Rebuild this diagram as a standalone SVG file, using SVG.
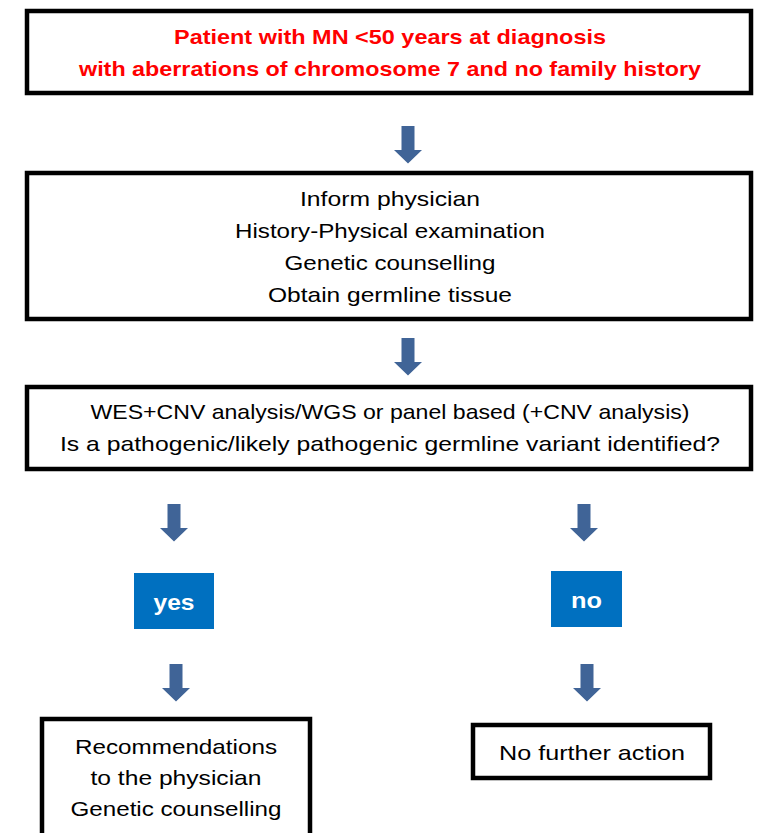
<svg xmlns="http://www.w3.org/2000/svg" width="760" height="833" viewBox="0 0 760 833">
<defs>
<style>
.box{fill:#fff;stroke:#000;stroke-width:4.5}
.t{font-family:"Liberation Sans",Arial,sans-serif;font-size:21px;fill:#000;text-anchor:middle}
.red{fill:#ff0000;font-weight:bold}
.lab{fill:#fff;font-weight:bold;font-size:22px}
.dec{fill:#0070c0}
.arr{fill:#406497}
</style>
<path id="ar" d="M-6.5,0 H6.5 V24 H14 L0,37.5 L-14,24 H-6.5 Z"/>
</defs>
<rect width="760" height="833" fill="#fff"/>
<g id="connectors">
<use href="#ar" class="arr" x="408" y="126"/>
<use href="#ar" class="arr" x="408" y="338"/>
<use href="#ar" class="arr" x="174" y="504"/>
<use href="#ar" class="arr" x="584" y="504"/>
<use href="#ar" class="arr" x="176" y="664"/>
<use href="#ar" class="arr" x="587" y="664"/>
</g>
<g id="n1">
<rect class="box" x="27" y="11" width="724" height="82"/>
<text class="t red" x="390" y="44" textLength="432" lengthAdjust="spacingAndGlyphs">Patient with MN &lt;50 years at diagnosis</text>
<text class="t red" x="390" y="76" textLength="622" lengthAdjust="spacingAndGlyphs">with aberrations of chromosome 7 and no family history</text>
</g>
<g id="n2">
<rect class="box" x="27" y="173" width="724" height="146"/>
<text class="t" x="390" y="206" textLength="180" lengthAdjust="spacingAndGlyphs">Inform physician</text>
<text class="t" x="390" y="238" textLength="310" lengthAdjust="spacingAndGlyphs">History-Physical examination</text>
<text class="t" x="390" y="270" textLength="211" lengthAdjust="spacingAndGlyphs">Genetic counselling</text>
<text class="t" x="390" y="302" textLength="244" lengthAdjust="spacingAndGlyphs">Obtain germline tissue</text>
</g>
<g id="n3">
<rect class="box" x="27" y="387" width="724" height="82"/>
<text class="t" x="390" y="419" textLength="599" lengthAdjust="spacingAndGlyphs">WES+CNV analysis/WGS or panel based (+CNV analysis)</text>
<text class="t" x="390" y="451" textLength="660" lengthAdjust="spacingAndGlyphs">Is a pathogenic/likely pathogenic germline variant identified?</text>
</g>
<g id="yes">
<rect class="dec" x="134" y="573" width="80" height="56"/>
<text class="t lab" x="174" y="610" textLength="41" lengthAdjust="spacingAndGlyphs">yes</text>
</g>
<g id="no">
<rect class="dec" x="551" y="571" width="71" height="56"/>
<text class="t lab" x="586.5" y="608" textLength="31" lengthAdjust="spacingAndGlyphs">no</text>
</g>
<g id="n4">
<rect class="box" x="42" y="719" width="268" height="130"/>
<text class="t" x="176" y="754" textLength="202" lengthAdjust="spacingAndGlyphs">Recommendations</text>
<text class="t" x="176" y="785" textLength="171" lengthAdjust="spacingAndGlyphs">to the physician</text>
<text class="t" x="176" y="816" textLength="211" lengthAdjust="spacingAndGlyphs">Genetic counselling</text>
</g>
<g id="n5">
<rect class="box" x="473" y="725" width="237" height="53"/>
<text class="t" x="592" y="760" textLength="186" lengthAdjust="spacingAndGlyphs">No further action</text>
</g>
</svg>
